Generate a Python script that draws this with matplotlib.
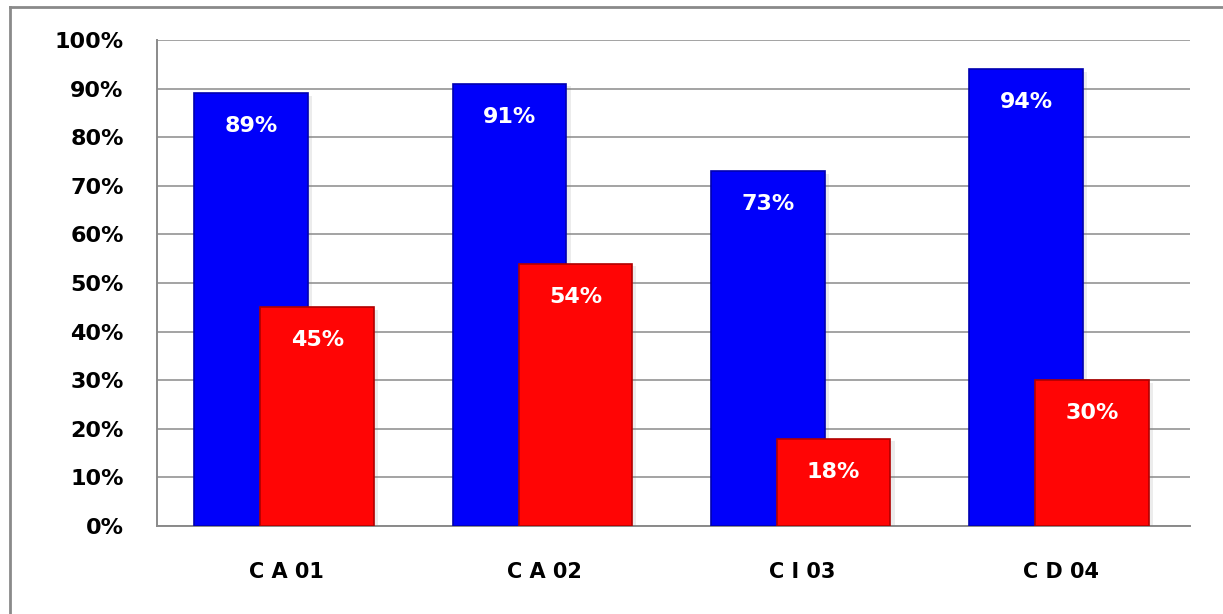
import numpy as np
import matplotlib
matplotlib.use("Agg")
import matplotlib.pyplot as plt
from matplotlib.lines import Line2D
from matplotlib import patheffects as pe

categories = ["C A 01", "C A 02", "C I 03", "C D 04"]
blue_values = [89, 91, 73, 94]
red_values = [45, 54, 18, 30]
y_ticks = [0, 10, 20, 30, 40, 50, 60, 70, 80, 90, 100]

fig = plt.figure(figsize=(12.23, 6.14), dpi=100)
ax = fig.add_axes([0.1284, 0.1433, 0.8446, 0.7916])

x = np.arange(len(categories))
width = 0.44
shadow = [pe.SimplePatchShadow(offset=(3, -2), alpha=0.15, shadow_rgbFace="gray"), pe.Normal()]

blue_bars = ax.bar(x - 0.135, blue_values, width, color="#0000FA", edgecolor="#0000B0",
                   linewidth=1.2, zorder=3, path_effects=shadow)
red_bars = ax.bar(x + 0.12, red_values, width, color="#FF0505", edgecolor="#B00000",
                  linewidth=1.2, zorder=4, path_effects=shadow)

# white value labels just under the top of each bar
for bars, vals in ((blue_bars, blue_values), (red_bars, red_values)):
    for b, v in zip(bars, vals):
        ax.annotate(f"{v}%", (b.get_x() + b.get_width() / 2, v),
                    xytext=(0, -33), textcoords="offset pixels",
                    ha="center", va="center", color="white",
                    fontsize=16, fontweight="bold", zorder=6)

ax.set_xlim(-0.5, len(categories) - 0.5)
ax.set_ylim(0, 100)
ax.set_yticks(y_ticks)
ax.set_yticklabels([f"{t}%" for t in y_ticks], fontsize=16, fontweight="bold")
ax.set_xticks(x)
ax.set_xticklabels(categories, fontsize=15, fontweight="bold")
ax.tick_params(axis="y", length=0, pad=24)
ax.tick_params(axis="x", length=0, pad=26)

ax.yaxis.grid(True, color="#8a8a8a", linewidth=1.1, zorder=0)
ax.set_axisbelow(True)
for side in ("top", "right"):
    ax.spines[side].set_visible(False)
for side in ("left", "bottom"):
    ax.spines[side].set_color("#8a8a8a")
    ax.spines[side].set_linewidth(1.4)

# outer frame around the chart
fig.add_artist(Line2D([10 / 1223, 1], [1 - 7 / 614, 1 - 7 / 614],
                      transform=fig.transFigure, color="#8a8a8a", linewidth=2))
fig.add_artist(Line2D([10 / 1223, 10 / 1223], [0, 1 - 7 / 614],
                      transform=fig.transFigure, color="#8a8a8a", linewidth=2))

fig.savefig("out.png", dpi=100)
